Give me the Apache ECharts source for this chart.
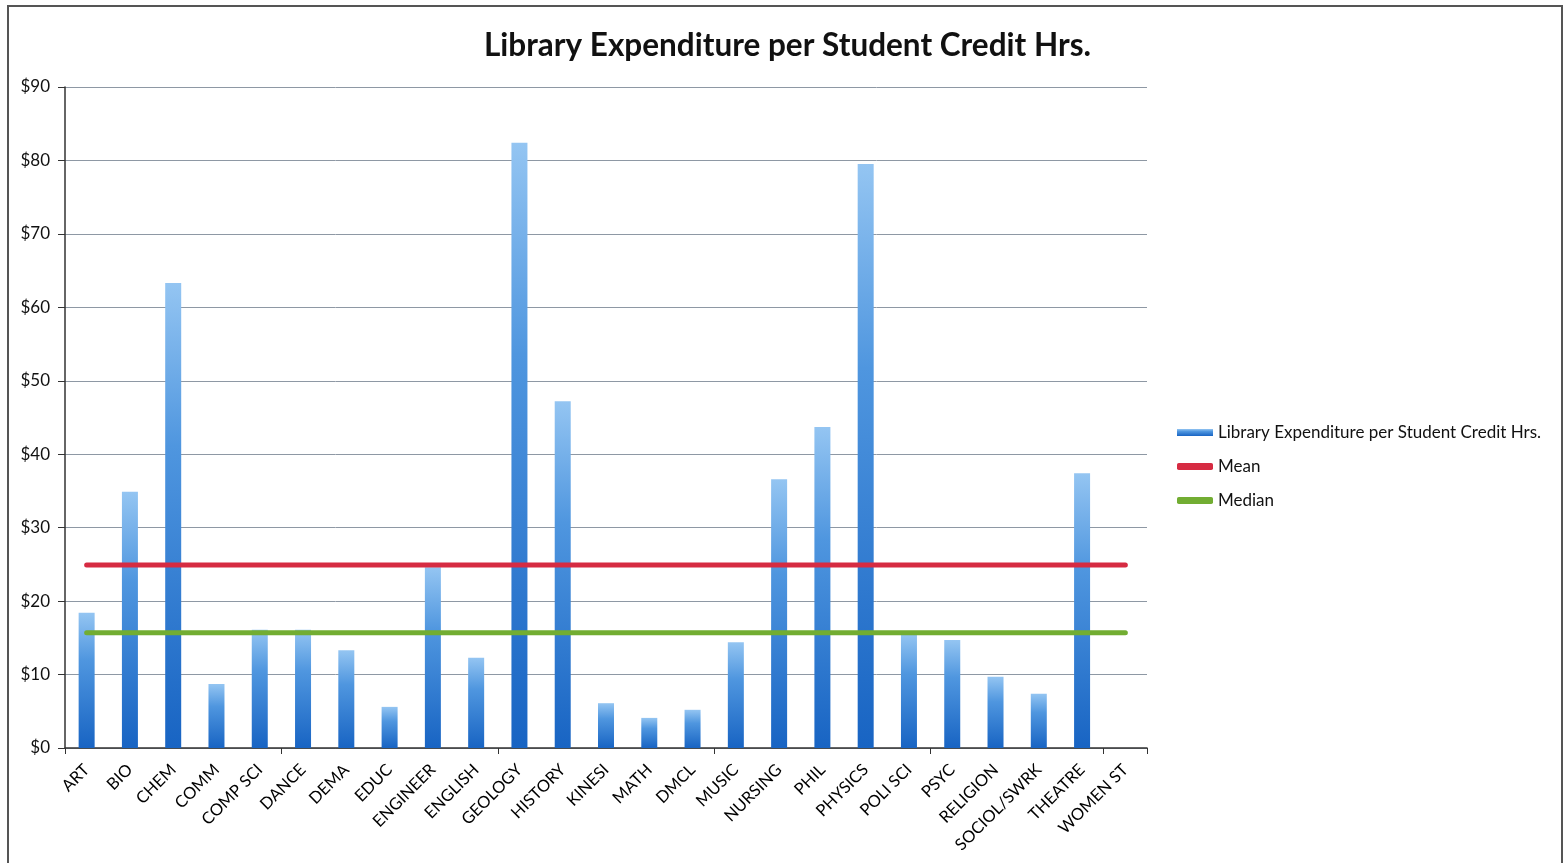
<!DOCTYPE html>
<html>
<head>
<meta charset="utf-8">
<title>Library Expenditure per Student Credit Hrs.</title>
<script src="https://cdn.jsdelivr.net/npm/echarts@6/dist/echarts.min.js"></script>
<style>
html, body { margin: 0; padding: 0; background: #fff; overflow: hidden; }
.frame {
  position: absolute; left: 7px; top: 5px; width: 1552px; height: 870px;
  border: 2px solid #555;
}
#chart { position: absolute; left: 0; top: 0; width: 1563px; height: 863px; }
</style>
</head>
<body>
<div class="frame"></div>
<div id="chart"></div>
<script>
// department names along the bottom
var departments = ['ART', 'BIO', 'CHEM', 'COMM', 'COMP SCI', 'DANCE', 'DEMA', 'EDUC',
  'ENGINEER', 'ENGLISH', 'GEOLOGY', 'HISTORY', 'KINESI', 'MATH', 'DMCL', 'MUSIC',
  'NURSING', 'PHIL', 'PHYSICS', 'POLI SCI', 'PSYC', 'RELIGION', 'SOCIOL/SWRK',
  'THEATRE', 'WOMEN ST'];
// dollars per student credit hour
var expenditure = [18.4, 34.9, 63.3, 8.7, 16.1, 16.1, 13.3, 5.6, 24.6, 12.3, 82.4, 47.2,
  6.1, 4.1, 5.2, 14.4, 36.6, 43.7, 79.5, 15.5, 14.7, 9.7, 7.4, 37.4, 0];
var meanValue = 24.9;
var medianValue = 15.7;
var meanLine = departments.map(function () { return meanValue; });
var medianLine = departments.map(function () { return medianValue; });

var chart = echarts.init(document.getElementById('chart'));
var font = 'Lato, "Open Sans", sans-serif';

var barFill = new echarts.graphic.LinearGradient(0, 0, 0, 1, [
  { offset: 0, color: '#94c5f2' },
  { offset: 0.35, color: '#4f96df' },
  { offset: 1, color: '#1864c3' }
]);

var option = {
  backgroundColor: 'transparent',
  animation: false,
  title: {
    text: 'Library Expenditure per Student Credit Hrs.',
    left: 479,
    top: 25,
    textStyle: { fontFamily: font, fontSize: 31.5, fontWeight: 'bold', color: '#111' }
  },
  legend: {
    orient: 'vertical',
    left: 1177,
    top: 424,
    padding: 0,
    itemWidth: 36,
    itemHeight: 7,
    itemGap: 17,
    textStyle: { fontFamily: font, fontSize: 17, color: '#111' },
    data: [
      { name: 'Library Expenditure per Student Credit Hrs.', icon: 'rect' },
      { name: 'Mean', icon: 'roundRect' },
      { name: 'Median', icon: 'roundRect' }
    ]
  },
  grid: { left: 65, right: 416, top: 87, bottom: 115 },
  xAxis: {
    type: 'category',
    data: departments,
    axisLine: { lineStyle: { color: '#333', width: 1.5 } },
    axisTick: { show: true, interval: 4, length: 6, lineStyle: { color: '#333' } },
    axisLabel: {
      interval: 0, rotate: 45, margin: 19,
      fontFamily: font, fontSize: 16.5, color: '#000'
    },
    splitLine: { show: false }
  },
  yAxis: {
    type: 'value',
    min: 0, max: 90, interval: 10,
    axisLine: { show: true, lineStyle: { color: '#333', width: 1.5 } },
    axisTick: { show: true, length: 7, lineStyle: { color: '#333' } },
    axisLabel: {
      margin: 15, fontFamily: font, fontSize: 17, color: '#111',
      formatter: function (v) { return '$' + v; }
    },
    splitLine: { show: true, lineStyle: { color: '#8e98a4', width: 1 } }
  },
  series: [
    {
      name: 'Library Expenditure per Student Credit Hrs.',
      type: 'bar',
      data: expenditure,
      barWidth: 16,
      itemStyle: { color: barFill }
    },
    {
      name: 'Mean',
      type: 'line',
      data: meanLine,
      symbol: 'none',
      z: 5,
      color: '#d62b42',
      lineStyle: { color: '#d62b42', width: 5, cap: 'round' }
    },
    {
      name: 'Median',
      type: 'line',
      data: medianLine,
      symbol: 'none',
      z: 5,
      color: '#72ad32',
      lineStyle: { color: '#72ad32', width: 5, cap: 'round' }
    }
  ]
};

chart.setOption(option);
</script>
</body>
</html>
